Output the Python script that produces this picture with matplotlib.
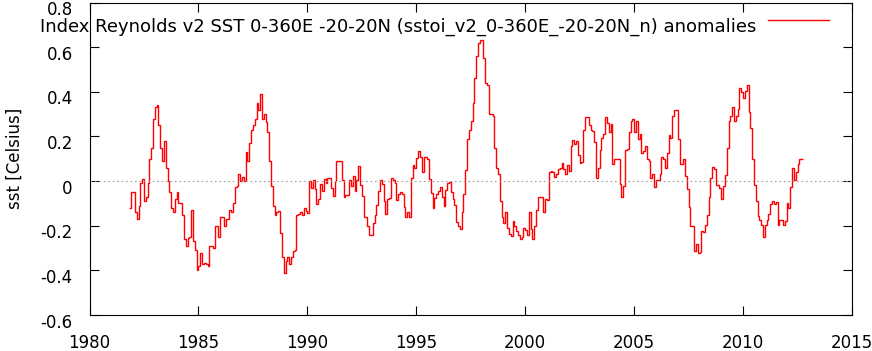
import matplotlib
matplotlib.use("Agg")
import matplotlib.pyplot as plt
import matplotlib.transforms as mtransforms
import numpy as np

# Monthly SST anomalies (Celsius), Nov 1981 .. Sep 2012
sst = [
    -0.12, -0.05, -0.05, -0.14, -0.17, -0.11, -0.01, 0.01, -0.09, -0.07,
    -0.01, 0.10, 0.15, 0.28, 0.33, 0.34, 0.25, 0.15, 0.09, 0.18,
    0.06, 0.00, -0.05, -0.12, -0.14, -0.08, -0.05, -0.10, -0.10, -0.15,
    -0.26, -0.29, -0.255, -0.25, -0.13, -0.27, -0.31, -0.40, -0.38, -0.32,
    -0.37, -0.365, -0.37, -0.38, -0.29, -0.29, -0.30, -0.20, -0.20, -0.25,
    -0.16, -0.16, -0.20, -0.17, -0.17, -0.13, -0.14, -0.10, -0.025, -0.02,
    0.03, 0.00, 0.02, 0.00, 0.13, 0.09, 0.17, 0.23, 0.25, 0.28,
    0.35, 0.32, 0.39, 0.28, 0.30, 0.265, 0.22, 0.09, -0.02, -0.11,
    -0.15, -0.14, -0.136, -0.234, -0.34, -0.413, -0.36, -0.34, -0.37, -0.34,
    -0.315, -0.31, -0.154, -0.149, -0.14, -0.154, -0.122, -0.134, -0.145, 0.00,
    -0.033, 0.003, -0.037, -0.104, -0.082, -0.015, -0.046, 0.01, -0.01, 0.012,
    0.016, -0.033, -0.069, 0.00, 0.088, 0.088, 0.088, 0.007, -0.073, -0.064,
    -0.064, 0.007, -0.024, 0.021, -0.046, 0.003, 0.066, -0.019, -0.069, -0.163,
    -0.163, -0.203, -0.243, -0.243, -0.186, -0.154, -0.109, -0.046, 0.003, -0.015,
    -0.091, -0.149, -0.082, -0.078, 0.012, 0.003, -0.01, -0.087, -0.06, -0.05,
    -0.06, -0.118, -0.163, -0.14, -0.163, 0.012, 0.07, 0.057, 0.105, 0.136,
    0.106, 0.04, 0.11, 0.11, 0.10, 0.01, -0.055, -0.12, -0.078, -0.06,
    -0.046, -0.025, -0.07, -0.11, -0.04, -0.01, -0.005, -0.05, -0.08, -0.105,
    -0.185, -0.20, -0.215, -0.14, -0.06, 0.05, 0.19, 0.23, 0.27, 0.35,
    0.46, 0.56, 0.62, 0.63, 0.63, 0.55, 0.44, 0.43, 0.30, 0.30,
    0.29, 0.15, 0.06, 0.03, -0.09, -0.16, -0.19, -0.14, -0.21, -0.235,
    -0.245, -0.18, -0.20, -0.225, -0.24, -0.26, -0.25, -0.21, -0.22, -0.24,
    -0.14, -0.215, -0.26, -0.20, -0.13, -0.07, -0.07, -0.07, -0.14, -0.08,
    -0.085, 0.04, 0.045, 0.04, 0.02, 0.03, 0.055, 0.057, 0.079, 0.052,
    0.03, 0.07, 0.043, 0.155, 0.186, 0.168, 0.18, 0.115, 0.08, 0.085,
    0.227, 0.285, 0.285, 0.25, 0.23, 0.225, 0.175, 0.015, 0.06, 0.14,
    0.195, 0.21, 0.285, 0.262, 0.22, 0.257, 0.078, 0.097, 0.097, 0.097,
    -0.015, -0.07, -0.022, 0.138, 0.143, 0.22, 0.27, 0.28, 0.22, 0.268,
    0.187, 0.21, 0.128, 0.133, 0.155, 0.10, 0.088, 0.016, 0.03, -0.028,
    0.007, 0.007, 0.03, 0.106, 0.097, 0.057, 0.128, 0.208, 0.195, 0.293,
    0.32, 0.32, 0.187, 0.075, 0.075, 0.097, 0.021, -0.037, -0.118, -0.203,
    -0.203, -0.315, -0.28, -0.32, -0.316, -0.222, -0.227, -0.198, -0.154, -0.07,
    0.016, 0.061, 0.052, -0.016, -0.016, -0.03, -0.082, -0.024, 0.025, 0.15,
    0.27, 0.29, 0.33, 0.27, 0.29, 0.325, 0.415, 0.40, 0.37, 0.405,
    0.43, 0.31, 0.24, 0.10, -0.016, -0.09, -0.155, -0.175, -0.195, -0.25,
    -0.195, -0.176, -0.148, -0.104, -0.088, -0.104, -0.095, -0.195, -0.176, -0.176,
    -0.198, -0.18, -0.10, -0.122, -0.028, 0.057, 0.007, 0.039, 0.078, 0.097,
    0.10,
]
start_year = 1981
start_month = 11
xticks = [1980, 1985, 1990, 1995, 2000, 2005, 2010, 2015]
yticks = [-0.6, -0.4, -0.2, 0.0, 0.2, 0.4, 0.6, 0.8]
ytick_labels = ["-0.6", "-0.4", "-0.2", "0", "0.2", "0.4", "0.6", "0.8"]
title = "Index Reynolds v2 SST 0-360E -20-20N (sstoi_v2_0-360E_-20-20N_n) anomalies"
ylabel = "sst [Celsius]"

plt.rcParams["font.family"] = ["DejaVu Sans"]
W, H = 872, 351
fig = plt.figure(figsize=(W / 100, H / 100), dpi=100)
ax = fig.add_axes([89.5 / W, (H - 315) / H, (852 - 89.5) / W, (315 - 2.5) / H])

n = len(sst)
edges = start_year + (start_month - 1) / 12 + np.arange(n + 1) / 12.0
ax.stairs(sst, edges, baseline=None, color="#ff0000", lw=1.0)
ax.axhline(0, color="#a0a0a0", lw=0.8, ls=(0, (1.5, 2.5)))

ax.set_xlim(1980, 2015)
ax.set_ylim(-0.6, 0.8)
ax.set_xticks(xticks)
ax.set_xticklabels([str(t) for t in xticks])
ax.set_yticks(yticks)
ax.set_yticklabels(ytick_labels)
ax.tick_params(direction="in", length=6.5, width=0.8, top=True, right=True,
               labelsize=12, colors="black")
ax.tick_params(axis="x", pad=14)
ax.tick_params(axis="y", pad=12)
for sp in ax.spines.values():
    sp.set_linewidth(0.8)

off = mtransforms.ScaledTranslation(0, -4 / 72, fig.dpi_scale_trans)
for lab in ax.get_yticklabels():
    lab.set_transform(lab.get_transform() + off)

ax.set_ylabel(ylabel, fontsize=12, labelpad=12)

# key entry
ax_w = 852 - 89.5
ax_h = 315 - 2.5
ytxt = (315 - 27) / ax_h
ax.text((756 - 89.5) / ax_w, ytxt, title, transform=ax.transAxes,
        ha="right", va="center", fontsize=13, clip_on=False)
yline = (315 - 20) / ax_h
ax.plot([(768 - 89.5) / ax_w, (829 - 89.5) / ax_w], [yline] * 2,
        transform=ax.transAxes, color="#ff0000", lw=1.0, clip_on=False)

fig.savefig("out.png", dpi=100)
